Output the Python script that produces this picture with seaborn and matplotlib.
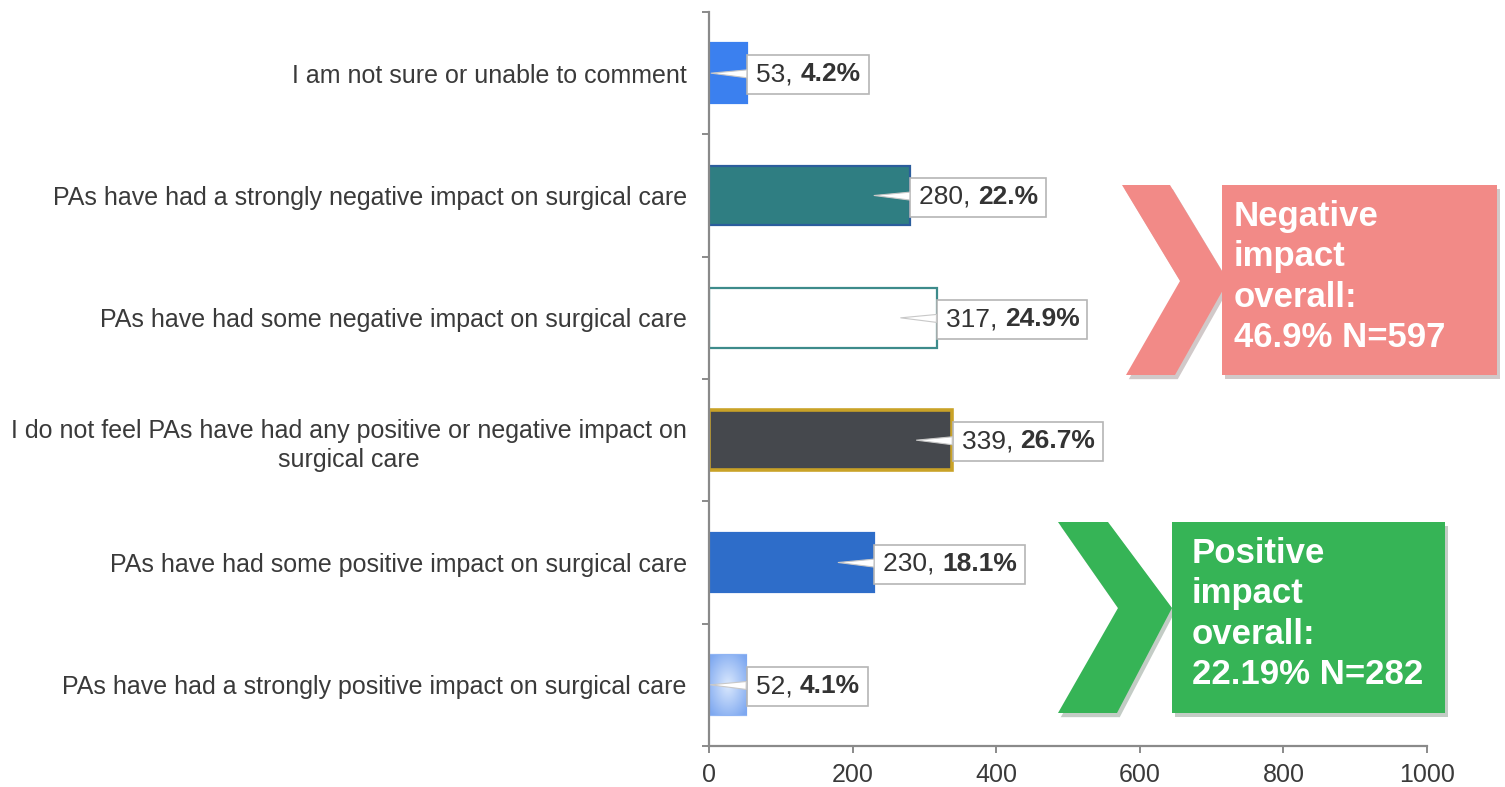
import numpy as np
import matplotlib
matplotlib.use("Agg")
import matplotlib.pyplot as plt
import matplotlib.patheffects as pe
from matplotlib.colors import LinearSegmentedColormap
from matplotlib.patches import Polygon, Rectangle
from matplotlib.text import Text
from matplotlib.transforms import IdentityTransform
import seaborn as sns

# chart data
categories = [
    "I am not sure or unable to comment",
    "PAs have had a strongly negative impact on surgical care",
    "PAs have had some negative impact on surgical care",
    "I do not feel PAs have had any positive or negative impact on\nsurgical care",
    "PAs have had some positive impact on surgical care",
    "PAs have had a strongly positive impact on surgical care",
]
counts = [53, 280, 317, 339, 230, 52]
percents = ["4.2%", "22.%", "24.9%", "26.7%", "18.1%", "4.1%"]
bar_colors = ["#3b80ef", "#2f7e82", "#ffffff", "#45484d", "#2e6dc9", "#a7c6f7"]
edge_colors = ["#3b80ef", "#2b5d9c", "#3d8b8b", "#c9a227", "#2e6dc9", "#8fb4f3"]
x_ticks = [0, 200, 400, 600, 800, 1000]

neg_text = "Negative\nimpact\noverall:\n46.9% N=597"
pos_text = "Positive\nimpact\noverall:\n22.19% N=282"

sns.set_style("white")
plt.rcParams["font.family"] = ["Liberation Sans", "DejaVu Sans"]

W, H = 1505, 787
fig = plt.figure(figsize=(W / 100, H / 100), dpi=100)
ax = fig.add_axes([709 / W, 1 - 746 / H, (1427 - 709) / W, (746 - 12) / H])

sns.barplot(x=counts, y=categories, hue=categories, palette=bar_colors,
            legend=False, width=0.49, saturation=1, ax=ax)

for patch, ec in zip(ax.patches, edge_colors):
    patch.set_edgecolor(ec)
    patch.set_linewidth(1.6)
ax.patches[3].set_linewidth(2.6)

# soft gradient on the last bar
p = ax.patches[5]
yy, xx = np.mgrid[-1:1:60j, -1:1:60j]
grad = np.clip(np.sqrt(xx ** 2 + yy ** 2) / 1.3, 0, 1)
cmap = LinearSegmentedColormap.from_list("g", ["#d8e7fd", "#7ea8f0"])
ax.imshow(grad, cmap=cmap, aspect="auto", zorder=p.get_zorder() + 0.1,
          extent=[p.get_x(), p.get_x() + p.get_width(),
                  p.get_y() + p.get_height(), p.get_y()],
          clip_path=p, clip_on=True)

ax.set_xlim(0, 1000)
ax.set_ylim(5.5, -0.5)
ax.set_xticks(x_ticks)
ax.set_xlabel("")
ax.set_ylabel("")

for side in ["top", "right"]:
    ax.spines[side].set_visible(False)
for side in ["left", "bottom"]:
    ax.spines[side].set_color("#8a8a8a")
    ax.spines[side].set_linewidth(1.6)

ax.set_yticks(np.arange(-0.5, len(categories), 1), minor=True)
ax.tick_params(axis="y", which="major", length=0, pad=16, labelsize=18,
               labelcolor="#3a3a3a")
ax.tick_params(axis="y", which="minor", length=5, width=1.4, color="#8a8a8a",
               direction="out", left=True)
ax.tick_params(axis="x", length=5, width=1.4, color="#8a8a8a", direction="out",
               bottom=True, pad=7, labelsize=18, labelcolor="#3a3a3a")
for lab in ax.get_yticklabels():
    lab.set_multialignment("center")
    lab.set_linespacing(1.3)

# value callouts: plain count + bold percent inside one box
firsts = []
for i, (v, pct) in enumerate(zip(counts, percents)):
    tip = max(v - 50, 2)
    t1 = ax.annotate(f"{v}, ", xy=(tip, i), xytext=(v + 13, i + 0.01),
                     textcoords="data", ha="left", va="center", fontsize=19,
                     color="#333333", zorder=6,
                     bbox=dict(boxstyle="square,pad=0.36", fc="none", ec="none"),
                     arrowprops=dict(arrowstyle="wedge,tail_width=0.3", fc="white",
                                     ec="#c8c8c8", lw=0.8, shrinkA=0, shrinkB=0))
    firsts.append(t1)

fig.canvas.draw()
r = fig.canvas.get_renderer()
for t1, pct in zip(firsts, percents):
    b1 = Text.get_window_extent(t1, r)
    t2 = ax.annotate(pct, xy=(b1.x1, b1.y0), xycoords="figure pixels",
                     ha="left", va="bottom", fontsize=19, fontweight="bold",
                     color="#333333", zorder=6)
    b2 = Text.get_window_extent(t2, r)
    x0, x1 = b1.x0 - 9, b2.x1 + 8
    y0, y1 = min(b1.y0, b2.y0) - 8, max(b1.y1, b2.y1) + 7
    ax.add_artist(Rectangle((x0, y0), x1 - x0, y1 - y0,
                            transform=IdentityTransform(), clip_on=False,
                            fc="white", ec="#b5b5b5", lw=1.2, zorder=5))


def px(x, y):
    return (x / W, 1 - y / H)


shadow = [pe.SimplePatchShadow(offset=(2, -3), alpha=0.25), pe.Normal()]

# negative summary
neg_c = "#f28a87"
fig.patches.append(Polygon([px(1122, 185), px(1170, 185), px(1228, 281),
                            px(1175, 375), px(1126, 375), px(1180, 281)],
                           closed=True, transform=fig.transFigure, fc=neg_c,
                           ec="none", path_effects=shadow))
fig.patches.append(Rectangle(px(1222, 375), 275 / W, 190 / H,
                             transform=fig.transFigure, fc=neg_c, ec="none",
                             path_effects=shadow))
fig.text(*px(1234, 200), neg_text, ha="left", va="top", fontsize=25,
         fontweight="bold", color="white", linespacing=1.28)

# positive summary
pos_c = "#36b456"
fig.patches.append(Polygon([px(1058, 522), px(1108, 522), px(1172, 608),
                            px(1117, 713), px(1058, 713), px(1118, 608)],
                           closed=True, transform=fig.transFigure, fc=pos_c,
                           ec="none", path_effects=shadow))
fig.patches.append(Rectangle(px(1172, 713), 273 / W, 191 / H,
                             transform=fig.transFigure, fc=pos_c, ec="none",
                             path_effects=shadow))
fig.text(*px(1192, 537), pos_text, ha="left", va="top", fontsize=25,
         fontweight="bold", color="white", linespacing=1.28)

fig.savefig("out.png", dpi=100, facecolor="white")
